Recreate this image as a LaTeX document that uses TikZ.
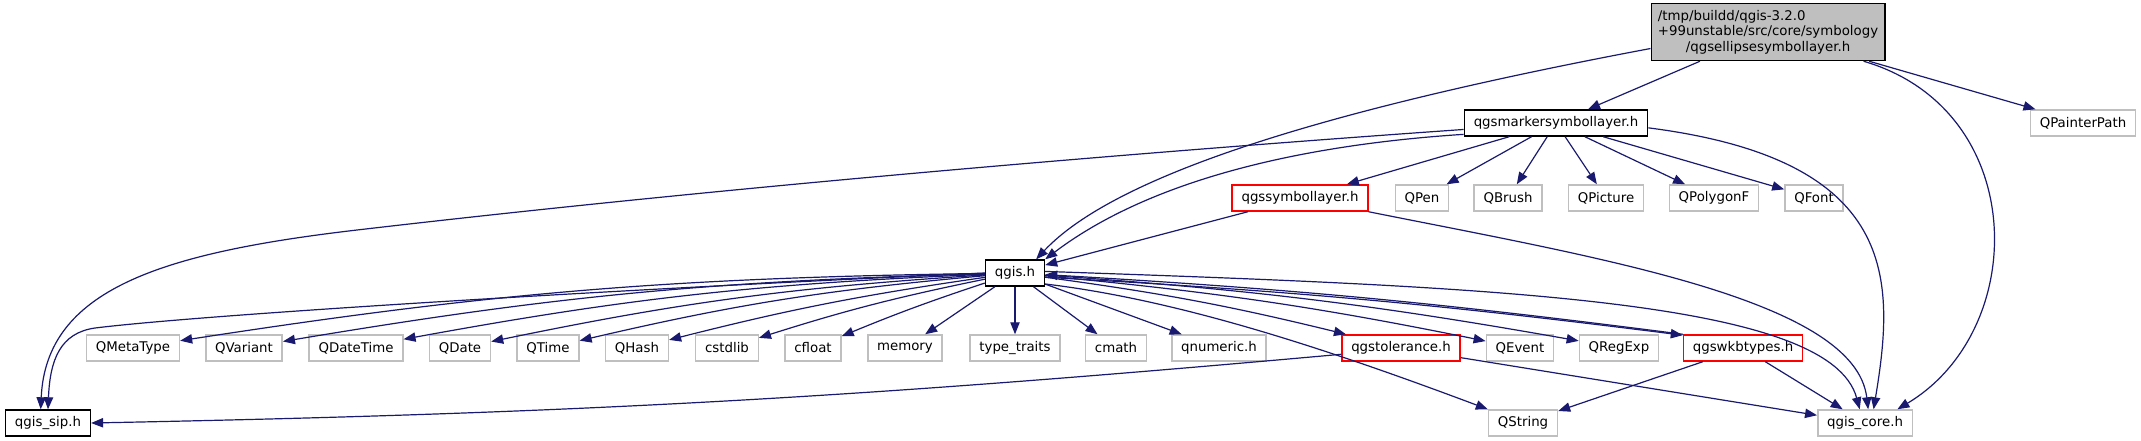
\documentclass[tikz,border=0pt]{standalone}
\usepackage{fontspec}
\setmainfont{DejaVu Sans}
\usetikzlibrary{arrows.meta}
\definecolor{cnavy}{HTML}{191970}
\definecolor{cgrey}{HTML}{BFBFBF}
\definecolor{cred}{HTML}{FF0000}
\tikzset{
  every picture/.style={font=\fontsize{10}{11.5}\selectfont, line width=0.9pt},
  box/.style={draw=#1, fill=white, line width=1.1pt, inner xsep=7pt, inner ysep=0pt, minimum height=19.5pt},
  box/.default=black,
  arrow/.style={-{Triangle[length=9pt, width=7pt]}, draw=cnavy, line width=0.9pt},
}

\begin{document}
\begin{tikzpicture}[x=0.75pt, y=0.75pt]
  \fill[white] (0,0) rectangle (2141,-440);
  % the header itself
  \node[box, fill=cgrey, inner xsep=5pt, minimum height=42.75pt, align=center] (e) at (1768,-32) {\rlap{/tmp/buildd/qgis-3.2.0}\phantom{+99unstable/src/core/symbology}\\+99unstable/src/core/symbology\\/qgsellipsesymbollayer.h};
  \node[box] (m) at (1556,-123) {qgsmarkersymbollayer.h};
  \node[box=cgrey] (qpainterpath) at (2083,-123) {QPainterPath};
  \node[box=cred] (s) at (1300,-198) {qgssymbollayer.h};
  \node[box=cgrey] (qpen) at (1422,-198) {QPen};
  \node[box=cgrey] (qbrush) at (1508,-198) {QBrush};
  \node[box=cgrey] (qpicture) at (1606,-198) {QPicture};
  \node[box=cgrey] (qpolygonf) at (1714,-198) {QPolygonF};
  \node[box=cgrey] (qfont) at (1814,-198) {QFont};
  \node[box] (g) at (1015,-273) {qgis.h};
  % everything qgis.h pulls in
  \node[box=cgrey] (qmetatype) at (133,-348) {QMetaType};
  \node[box=cgrey] (qvariant) at (244,-348) {QVariant};
  \node[box=cgrey] (qdatetime) at (356,-348) {QDateTime};
  \node[box=cgrey] (qdate) at (460,-348) {QDate};
  \node[box=cgrey] (qtime) at (548,-348) {QTime};
  \node[box=cgrey] (qhash) at (637,-348) {QHash};
  \node[box=cgrey] (cstdlib) at (727,-348) {cstdlib};
  \node[box=cgrey] (cfloat) at (813,-348) {cfloat};
  \node[box=cgrey] (memory) at (905,-348) {memory};
  \node[box=cgrey] (typetraits) at (1015,-348) {type\_traits};
  \node[box=cgrey] (cmath) at (1116,-348) {cmath};
  \node[box=cgrey] (qnumeric) at (1219,-348) {qnumeric.h};
  \node[box=cred] (tol) at (1401,-348) {qgstolerance.h};
  \node[box=cgrey] (qevent) at (1520,-348) {QEvent};
  \node[box=cgrey] (qregexp) at (1619,-348) {QRegExp};
  \node[box=cred] (wkb) at (1743,-348) {qgswkbtypes.h};
  \node[box] (sip) at (48,-423) {qgis\_sip.h};
  \node[box=cgrey] (qstring) at (1523,-423) {QString};
  \node[box=cgrey] (core) at (1865,-423) {qgis\_core.h};

  \draw[arrow] (e) -- (m);
  \draw[arrow] (e) -- (qpainterpath);
  \draw[arrow] (e.188) .. controls (1350,-105) and (1120,-170) .. (g.33);
  \draw[arrow] (e.-17) .. controls (2030,-110) and (2030,-330) .. (core.23);

  \draw[arrow] (m.184) .. controls (1100,-155) and (700,-190) .. (357,-230) .. controls (160,-253) and (46,-290) .. (sip.118);
  \draw[arrow] (m.187) .. controls (1300,-145) and (1150,-180) .. (g.north east);
  \draw[arrow] (m) -- (s);
  \draw[arrow] (m) -- (qpen);
  \draw[arrow] (m) -- (qbrush);
  \draw[arrow] (m) -- (qpicture);
  \draw[arrow] (m) -- (qpolygonf);
  \draw[arrow] (m) -- (qfont);
  \draw[arrow] (m.-3) .. controls (1900,-160) and (1895,-280) .. (core.58);

  \draw[arrow] (s) -- (g);
  \draw[arrow] (s.south east) .. controls (1600,-258) and (1855,-300) .. (core.77);

  \draw[arrow] (g.west) .. controls (600,-290) and (200,-315) .. (95,-328) .. controls (60,-333) and (50,-360) .. (sip.north);
  \draw[arrow] (g) to[bend right=4] (qmetatype);
  \draw[arrow] (g) to[bend right=4] (qvariant);
  \draw[arrow] (g) to[bend right=4] (qdatetime);
  \draw[arrow] (g) to[bend right=4] (qdate);
  \draw[arrow] (g) to[bend right=4] (qtime);
  \draw[arrow] (g) to[bend right=3] (qhash);
  \draw[arrow] (g) to[bend right=3] (cstdlib);
  \draw[arrow] (g) to[bend right=2] (cfloat);
  \draw[arrow] (g) -- (memory);
  \draw[arrow] (g) -- (typetraits);
  \draw[arrow] (g) -- (cmath);
  \draw[arrow] (g) -- (qnumeric);
  \draw[arrow] (g) to[bend left=3] (tol);
  \draw[arrow] (g) to[bend left=3] (qevent);
  \draw[arrow] (g) to[bend left=3] (qregexp);
  \draw[arrow] (g.-8) to[bend left=2] (wkb.168);
  \draw[arrow] (wkb.north west) to[bend right=2] (g.-3);
  \draw[arrow] (g.-20) .. controls (1180,-300) and (1330,-350) .. (qstring.north west);
  \draw[arrow] (g.3) .. controls (1500,-287) and (1830,-300) .. (core.111);

  \draw[arrow] (tol.186) to[bend left=2] (sip.east);
  \draw[arrow] (tol) -- (core);
  \draw[arrow] (wkb) -- (qstring);
  \draw[arrow] (wkb) -- (core);
\end{tikzpicture}
\end{document}
